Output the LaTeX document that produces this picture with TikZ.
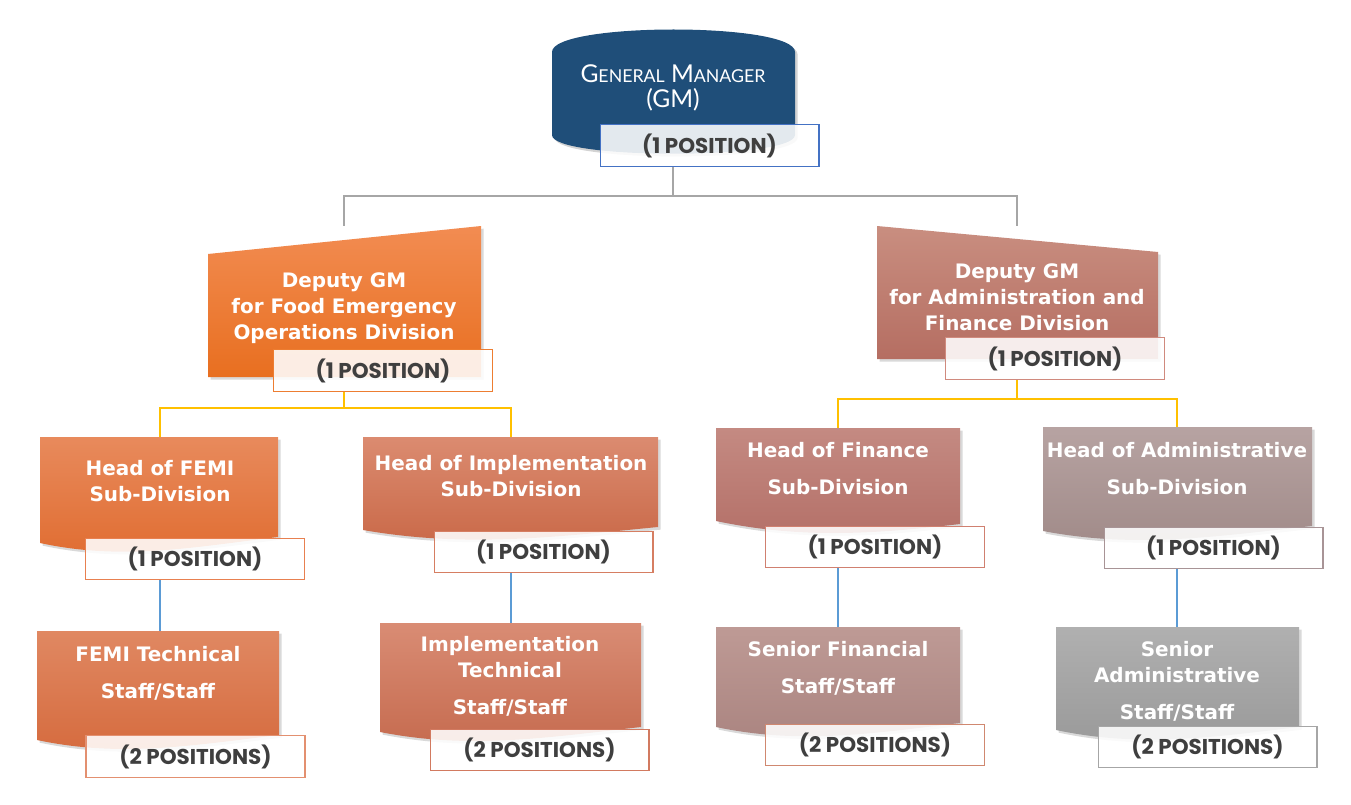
\documentclass[tikz,border=0pt]{standalone}
\usepackage{fontspec}
\setmainfont{DejaVu Sans}
\newfontfamily\gmfont{Lato}
\newfontfamily\posfont{Poppins}
\usetikzlibrary{shadows}
\definecolor{gmblue}{HTML}{1F4E79}
\definecolor{gmedge}{HTML}{4472C4}
\definecolor{toplink}{HTML}{A6A6A6}
\definecolor{midlink}{HTML}{FFC000}
\definecolor{lowlink}{HTML}{5B9BD5}
\definecolor{postext}{HTML}{3F3F3F}
% fills, top and bottom
\definecolor{dpfoodA}{HTML}{F28C52}\definecolor{dpfoodB}{HTML}{E86F20}
\definecolor{dpadminA}{HTML}{C98E80}\definecolor{dpadminB}{HTML}{B56E62}
\definecolor{hdfemiA}{HTML}{E88A5C}\definecolor{hdfemiB}{HTML}{E06C30}
\definecolor{hdimplA}{HTML}{DB8B70}\definecolor{hdimplB}{HTML}{C96847}
\definecolor{hdfinA}{HTML}{C48A82}\definecolor{hdfinB}{HTML}{B47068}
\definecolor{hdadmA}{HTML}{B7A3A2}\definecolor{hdadmB}{HTML}{A08A88}
\definecolor{stfemiA}{HTML}{E08862}\definecolor{stfemiB}{HTML}{D56A3D}
\definecolor{stimplA}{HTML}{D98C74}\definecolor{stimplB}{HTML}{C56A4E}
\definecolor{stfinA}{HTML}{BE9A95}\definecolor{stfinB}{HTML}{AA8480}
\definecolor{stadmA}{HTML}{B0B0B0}\definecolor{stadmB}{HTML}{999999}
% position box edges
\definecolor{dpfoodE}{HTML}{ED7D31}
\definecolor{dpadminE}{HTML}{D08A7E}
\definecolor{hdfemiE}{HTML}{E88050}
\definecolor{hdimplE}{HTML}{D67E62}
\definecolor{hdfinE}{HTML}{D08070}
\definecolor{hdadmE}{HTML}{A89496}
\definecolor{stfemiE}{HTML}{E39070}
\definecolor{stimplE}{HTML}{D27A60}
\definecolor{stfinE}{HTML}{D08870}
\definecolor{stadmE}{HTML}{A6A6A6}
\def\wavebox[#1](#2:#3:#4:#5:#6){\path[#1,drop shadow={opacity=0.3,shadow xshift=1.5pt,shadow yshift=-1.5pt}] (#2,#4) -- (#3,#4) -- (#3,#6) .. controls ({#2+0.65*(#3-#2)},{#6+10}) and ({#2+0.35*(#3-#2)},{#5+18}) .. (#2,#5) -- cycle;}

\begin{document}
\begin{tikzpicture}[x=0.02cm, y=-0.02cm,
	headtxt/.style={text=white, align=center, font=\bfseries\fontsize{11.35}{14.7}\selectfont},
	posbox/.style={draw=#1, fill=white, fill opacity=0.88, text opacity=1, minimum width=4.38cm, minimum height=0.83cm, inner sep=0pt, line width=0.6pt, font=\posfont\bfseries\fontsize{12.2}{12.2}\selectfont, text=postext},
	link/.style={draw=#1, line width=1pt}]
			%%%%% START %%%%%
			\useasboundingbox (0,0) rectangle (1351,804);
			
			% general manager
			\path[fill=gmblue, drop shadow={opacity=0.35,shadow xshift=1.5pt,shadow yshift=-1.5pt}] (552,135) -- (552,52) .. controls (552,22) and (795,22) .. (795,52) -- (795,135) .. controls (795,160) and (552,160) .. (552,135) -- cycle;
			\node[text=white, align=center, font=\gmfont\fontsize{14}{14.2}\selectfont] (gm) at (673,88) {G{\fontsize{10.1}{14.2}\selectfont ENERAL} M{\fontsize{10.1}{14.2}\selectfont ANAGER}\\(GM)};
			\node[posbox=gmedge] (gmpos) at (709.5,145.5) {(1 POSITION)};
			
			% deputies
			\path[top color=dpfoodA, bottom color=dpfoodB, drop shadow={opacity=0.3,shadow xshift=1.5pt,shadow yshift=-1.5pt}] (208,254) -- (481,226) -- (481,377) -- (208,377) -- cycle;
			\path[top color=dpadminA, bottom color=dpadminB, drop shadow={opacity=0.3,shadow xshift=1.5pt,shadow yshift=-1.5pt}] (877,226) -- (1158,252) -- (1158,359) -- (877,359) -- cycle;
			\node[headtxt] (dpfood) at (344,308) {Deputy GM\\for Food Emergency\\Operations Division};
			\node[headtxt] (dpadmin) at (1017,297) {Deputy GM\\for Administration and\\Finance Division};
			\node[posbox=dpfoodE] (dpfoodpos) at (383,370.5) {(1 POSITION)};
			\node[posbox=dpadminE] (dpadminpos) at (1055,358.5) {(1 POSITION)};
			\coordinate (dpfoodtop) at (344,226);
			\coordinate (dpadmintop) at (1017,226);
			
			% heads of sub-divisions
			\wavebox[top color=hdfemiA, bottom color=hdfemiB](40:278:437:543:537)
			\wavebox[top color=hdimplA, bottom color=hdimplB](363:658:437:530:527)
			\wavebox[top color=hdfinA, bottom color=hdfinB](716:960:428:521:524)
			\wavebox[top color=hdadmA, bottom color=hdadmB](1043:1312:427:531:526)
			\node[headtxt] (hdfemi) at (160,481) {Head of FEMI\\Sub-Division};
			\node[headtxt] (hdimpl) at (511,476) {Head of Implementation\\Sub-Division};
			\node[headtxt] (hdfin) at (838,469) {Head of Finance\\[6.3pt]Sub-Division};
			\node[headtxt] (hdadm) at (1177,469) {Head of Administrative\\[6.3pt]Sub-Division};
			\node[posbox=hdfemiE] (hdfemipos) at (195,559) {(1 POSITION)};
			\node[posbox=hdimplE] (hdimplpos) at (543.5,552) {(1 POSITION)};
			\node[posbox=hdfinE] (hdfinpos) at (875,547) {(1 POSITION)};
			\node[posbox=hdadmE] (hdadmpos) at (1213.5,548) {(1 POSITION)};
			\coordinate (hdfemitop) at (160,437);
			\coordinate (hdimpltop) at (511,437);
			\coordinate (hdfintop) at (838,428);
			\coordinate (hdadmtop) at (1177,427);
			
			% staff
			\wavebox[top color=stfemiA, bottom color=stfemiB](37:279:631:740:735)
			\wavebox[top color=stimplA, bottom color=stimplB](380:641:623:732:727)
			\wavebox[top color=stfinA, bottom color=stfinB](716:960:627:727:723)
			\wavebox[top color=stadmA, bottom color=stadmB](1056:1299:627:730:727)
			\node[headtxt] (stfemi) at (158,673) {FEMI Technical\\[6.3pt]Staff/Staff};
			\node[headtxt] (stimpl) at (510,676) {Implementation\\Technical\\[6.3pt]Staff/Staff};
			\node[headtxt] (stfin) at (838,668) {Senior Financial\\[6.3pt]Staff/Staff};
			\node[headtxt] (stadm) at (1177,681) {Senior\\Administrative\\[6.3pt]Staff/Staff};
			\node[posbox=stfemiE] (stfemipos) at (195.5,756.5) {(2 POSITIONS)};
			\node[posbox=stimplE] (stimplpos) at (539.5,750) {(2 POSITIONS)};
			\node[posbox=stfinE] (stfinpos) at (875,745) {(2 POSITIONS)};
			\node[posbox=stadmE] (stadmpos) at (1207.5,747) {(2 POSITIONS)};
			\coordinate (stfemitop) at (160,631);
			\coordinate (stimpltop) at (511,623);
			\coordinate (stfintop) at (838,627);
			\coordinate (stadmtop) at (1177,627);
			
			% connectors
			\draw[link=toplink] (gm |- gmpos.south) -- ++(0,29) coordinate (gmbus);
			\draw[link=toplink] (gmbus) -| (dpfoodtop);
			\draw[link=toplink] (gmbus) -| (dpadmintop);
			
			\draw[link=midlink] (dpfood |- dpfoodpos.south) -- ++(0,16) coordinate (foodbus);
			\draw[link=midlink] (foodbus) -| (hdfemitop);
			\draw[link=midlink] (foodbus) -| (hdimpltop);
			\draw[link=midlink] (dpadmin |- dpadminpos.south) -- ++(0,19) coordinate (adminbus);
			\draw[link=midlink] (adminbus) -| (hdfintop);
			\draw[link=midlink] (adminbus) -| (hdadmtop);
			
			\draw[link=lowlink] (hdfemi |- hdfemipos.south) -- (stfemitop);
			\draw[link=lowlink] (hdimpl |- hdimplpos.south) -- (stimpltop);
			\draw[link=lowlink] (hdfin |- hdfinpos.south) -- (stfintop);
			\draw[link=lowlink] (hdadm |- hdadmpos.south) -- (stadmtop);
			
			%%%%% END %%%%%
\end{tikzpicture}
\end{document}
